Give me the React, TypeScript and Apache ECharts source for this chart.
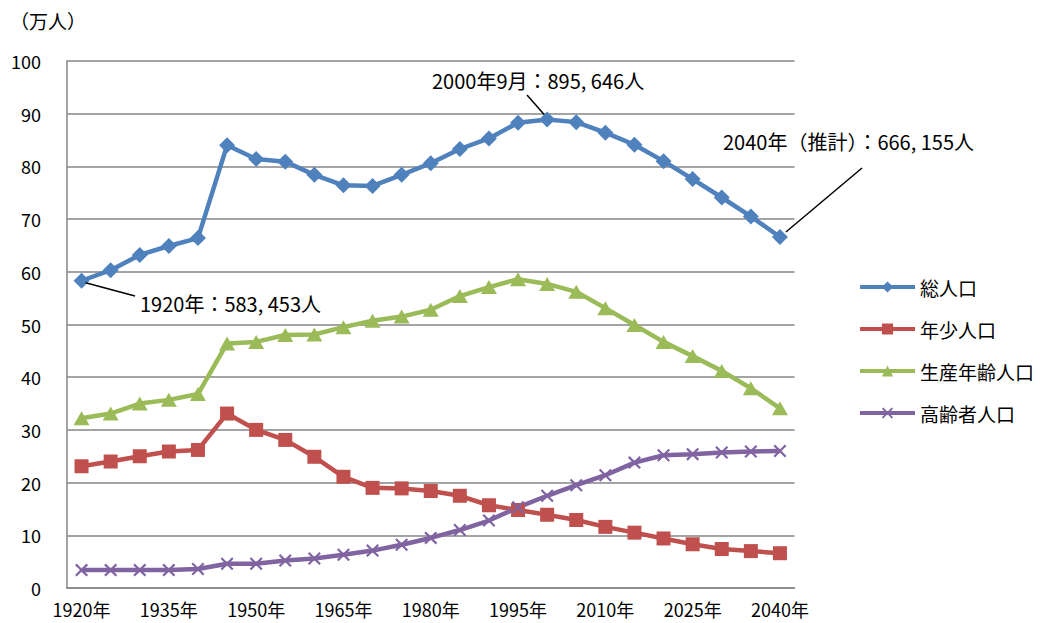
import React, { useEffect, useRef } from "react";
import * as echarts from "echarts";

const years = [
  "1920年", "1925年", "1930年", "1935年", "1940年", "1945年", "1950年", "1955年", "1960年",
  "1965年", "1970年", "1975年", "1980年", "1985年", "1990年", "1995年", "2000年", "2005年",
  "2010年", "2015年", "2020年", "2025年", "2030年", "2035年", "2040年",
];
const total = [58.3, 60.3, 63.2, 64.9, 66.4, 84.0, 81.4, 80.9, 78.4, 76.4, 76.3, 78.4, 80.6, 83.3, 85.3, 88.3, 88.9, 88.4, 86.4, 84.1, 81.0, 77.6, 74.1, 70.5, 66.6];
const youth = [23.1, 24.0, 25.0, 25.9, 26.2, 33.1, 30.0, 28.1, 24.9, 21.1, 19.0, 18.9, 18.4, 17.5, 15.7, 14.8, 13.9, 12.9, 11.6, 10.5, 9.4, 8.3, 7.4, 7.0, 6.6];
const working = [32.2, 33.1, 35.0, 35.7, 36.8, 46.4, 46.7, 48.0, 48.1, 49.5, 50.7, 51.5, 52.8, 55.4, 57.1, 58.6, 57.7, 56.2, 53.1, 49.9, 46.7, 44.0, 41.2, 37.9, 34.1];
const elderly = [3.4, 3.4, 3.4, 3.4, 3.6, 4.6, 4.6, 5.2, 5.6, 6.3, 7.1, 8.2, 9.5, 11.0, 12.8, 15.3, 17.5, 19.5, 21.4, 23.8, 25.2, 25.4, 25.7, 25.9, 26.0];
const seriesNames = ["総人口", "年少人口", "生産年齢人口", "高齢者人口"];
const unitLabel = "（万人）";
const notes = [
  { idx: 0, text: "1920年：583, 453人" },
  { idx: 16, text: "2000年9月：895, 646人" },
  { idx: 24, text: "2040年（推計）：666, 155人" },
];

const FONT = '"Noto Sans CJK JP", "Noto Sans", sans-serif';
const X_SYMBOL =
  "path://M0,1.2 L1.2,0 L5,3.8 L8.8,0 L10,1.2 L6.2,5 L10,8.8 L8.8,10 L5,6.2 L1.2,10 L0,8.8 L3.8,5 Z";

export default function App() {
  const ref = useRef<HTMLDivElement>(null);
  useEffect(() => {
    if (!ref.current) return;
    const chart = echarts.init(ref.current, null, { renderer: "svg" });
    const mk = (name: string, data: number[], color: string, symbol: string, size: number | number[]) => ({
      name,
      type: "line",
      data,
      symbol,
      symbolSize: size,
      itemStyle: { color },
      lineStyle: { color, width: 4.5 },
      z: 3,
    });
    chart.setOption({
      animation: false,
      textStyle: { fontFamily: FONT },
      grid: { left: 67, right: 251.5, top: 61, bottom: 35 },
      legend: {
        orient: "vertical",
        left: 858,
        top: 277,
        padding: 0,
        itemWidth: 55,
        itemHeight: 14,
        itemGap: 22,
        lineStyle: { width: 4 },
        textStyle: { fontSize: 19, color: "#000", fontFamily: FONT, lineHeight: 20 },
        data: seriesNames,
      },
      xAxis: {
        type: "category",
        data: years,
        boundaryGap: true,
        axisLine: { lineStyle: { color: "#868686", width: 1.5 } },
        axisTick: { show: false },
        axisLabel: { interval: 2, fontSize: 18, color: "#000", margin: 12, fontFamily: FONT },
      },
      yAxis: {
        type: "value",
        min: 0,
        max: 100,
        interval: 10,
        axisLine: { show: true, lineStyle: { color: "#868686", width: 1.5 } },
        axisTick: { show: false },
        axisLabel: { fontSize: 18, color: "#000", margin: 26, fontFamily: FONT },
        splitLine: { lineStyle: { color: "#868686", width: 1.5 } },
      },
      series: [
        mk(seriesNames[0], total, "#4F81BD", "diamond", 16),
        mk(seriesNames[1], youth, "#C0504D", "rect", 14),
        mk(seriesNames[2], working, "#9BBB59", "triangle", [16, 14]),
        mk(seriesNames[3], elderly, "#8064A2", X_SYMBOL, 13),
      ],
    });

    const p = notes.map((n) => chart.convertToPixel({ seriesIndex: 0 }, [n.idx, total[n.idx]]) as number[]);
    const tStyle = (text: string) => ({ text, fontSize: 20, fill: "#000", fontFamily: FONT });
    chart.setOption({
      graphic: [
        { type: "text", left: 10, top: 11, style: { ...tStyle(unitLabel), fontSize: 19 } },
        { type: "line", shape: { x1: p[0][0] + 4, y1: p[0][1] + 2, x2: 135, y2: 296 }, style: { stroke: "#000", lineWidth: 1.5 }, z: 10 },
        { type: "text", x: 140, y: 303, style: { ...tStyle(notes[0].text), textVerticalAlign: "middle" }, z: 10 },
        { type: "line", shape: { x1: 527, y1: 95, x2: p[1][0] - 3, y2: p[1][1] - 5 }, style: { stroke: "#000", lineWidth: 1.5 }, z: 10 },
        { type: "text", x: 432, y: 80, style: { ...tStyle(notes[1].text), textVerticalAlign: "middle" }, z: 10 },
        { type: "line", shape: { x1: p[2][0] + 6, y1: p[2][1] - 5, x2: 862, y2: 168 }, style: { stroke: "#000", lineWidth: 1.5 }, z: 10 },
        { type: "text", x: 723, y: 141, style: { ...tStyle(notes[2].text), textVerticalAlign: "middle" }, z: 10 },
      ],
    });
    return () => chart.dispose();
  }, []);
  return (
    <div
      ref={ref}
      style={{ position: "absolute", left: 0, top: 0, width: 1046, height: 623, background: "#fff" }}
    />
  );
}
